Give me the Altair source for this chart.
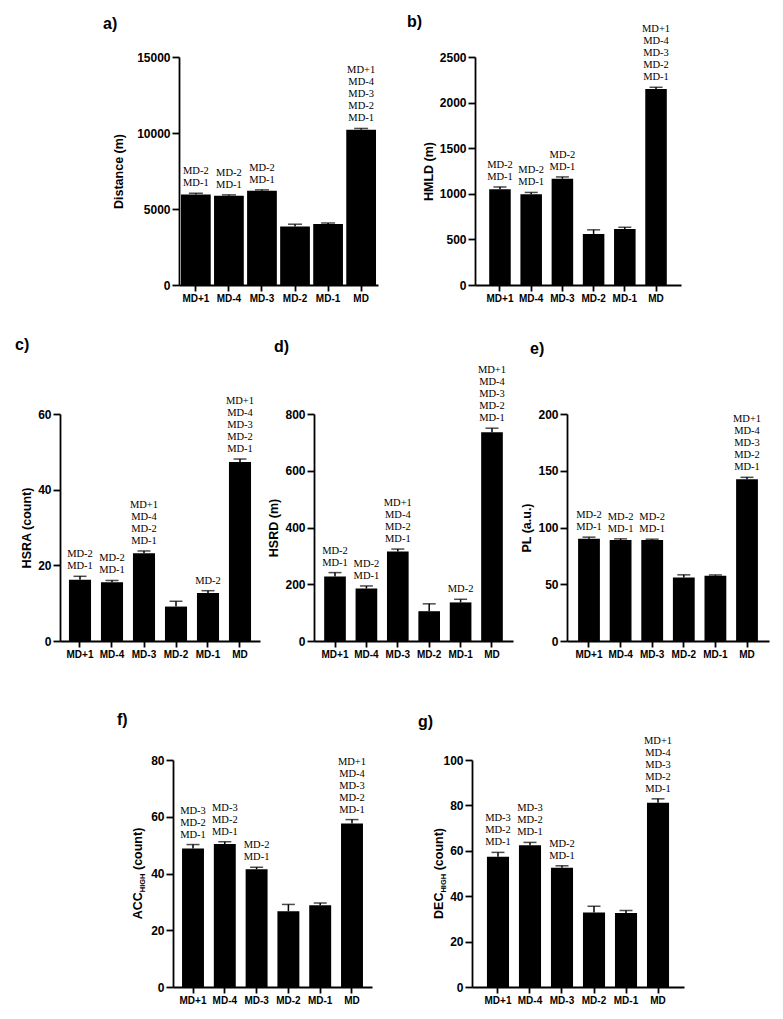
import altair as alt
import pandas as pd

days = ["MD+1", "MD-4", "MD-3", "MD-2", "MD-1", "MD"]

distance_mean = [5950, 5870, 6200, 3850, 4020, 10220]
distance_err = [80, 60, 60, 150, 60, 80]
hmld_mean = [1050, 995, 1165, 560, 615, 2150]
hmld_err = [25, 20, 20, 45, 18, 18]
hsra_mean = [16.2, 15.5, 23.2, 9.1, 12.7, 47.3]
hsra_err = [0.9, 0.5, 0.6, 1.4, 0.6, 0.8]
hsrd_mean = [227, 185, 315, 105, 136, 736]
hsrd_err = [14, 9, 9, 26, 11, 14]
pl_mean = [90, 89, 89, 56, 57.5, 142.6]
pl_err = [1.5, 1.0, 0.7, 2.3, 0.7, 1.6]
acc_mean = [48.8, 50.4, 41.5, 26.7, 28.8, 57.6]
acc_err = [1.4, 0.8, 0.7, 2.4, 0.8, 1.4]
dec_mean = [57.4, 62.5, 52.5, 32.8, 32.6, 81.2]
dec_err = [1.9, 1.2, 0.9, 2.8, 1.1, 1.7]

ALL5 = "MD+1\nMD-4\nMD-3\nMD-2\nMD-1"
notes_ab = ["MD-2\nMD-1", "MD-2\nMD-1", "MD-2\nMD-1", "", "", ALL5]
notes_cd = ["MD-2\nMD-1", "MD-2\nMD-1", "MD+1\nMD-4\nMD-2\nMD-1", "", "MD-2", ALL5]
notes_e = ["MD-2\nMD-1", "MD-2\nMD-1", "MD-2\nMD-1", "", "", ALL5]
notes_fg = ["MD-3\nMD-2\nMD-1", "MD-3\nMD-2\nMD-1", "MD-2\nMD-1", "", "", ALL5]

ticks_a = [0, 5000, 10000, 15000]
ticks_b = [0, 500, 1000, 1500, 2000, 2500]
ticks_c = [0, 20, 40, 60]
ticks_d = [0, 200, 400, 600, 800]
ticks_e = [0, 50, 100, 150, 200]
ticks_f = [0, 20, 40, 60, 80]
ticks_g = [0, 20, 40, 60, 80, 100]

FONT = "Liberation Sans"
SERIF = "Liberation Serif"
MAXLINES = 5
LINE_H = 12

# Arial-bold advance widths (em) for building the subscripted titles
W = {"A": .722, "C": .722, "D": .722, "E": .667, "H": .722, "I": .278, "G": .778,
     " ": .278, "(": .333, ")": .333, "c": .556, "o": .611, "u": .611, "n": .611, "t": .333}


def tw(s, size):
    return sum(W[ch] for ch in s) * size


def panel(label, title, means, errs, notes, ticks, width, height, title_x,
          label_x, label_y, pad_in=0.31, pad_out=0.3, cap=13, sub=None):
    cols = {"day": days, "mean": means,
            "top": [m + e for m, e in zip(means, errs)]}
    split = [n.split("\n")[::-1] if n else [] for n in notes]
    for k in range(MAXLINES):
        cols[f"l{k}"] = [s[k] if k < len(s) else "" for s in split]
    df = pd.DataFrame(cols)
    xenc = alt.X("day:N", sort=days,
                 scale=alt.Scale(paddingInner=pad_in, paddingOuter=pad_out),
                 axis=alt.Axis(title=None, labelAngle=0, labelFontSize=10,
                               tickSize=6, labelPadding=2))
    if sub is None:
        ax = dict(title=title, titleX=title_x)
    else:
        ax = dict(title=None)
    yscale = alt.Scale(domain=[0, ticks[-1]], nice=False)

    def Y(field):
        return alt.Y(field, scale=yscale,
                     axis=alt.Axis(values=ticks, format="d", tickSize=7,
                                   labelPadding=2, labelFontSize=12, **ax))

    base = alt.Chart(df)
    bars = base.mark_bar(color="black").encode(x=xenc, y=Y("mean:Q"))
    whisk = base.mark_rule(color="black", strokeWidth=1.5).encode(
        x=xenc, y=Y("mean:Q"), y2="top:Q")
    caps = base.mark_tick(color="black", orient="horizontal", size=cap,
                          thickness=1.5).encode(x=xenc, y=Y("top:Q"))
    layers = [bars, whisk, caps]
    for k in range(MAXLINES):
        layers.append(base.mark_text(
            font=SERIF, fontSize=10.5, baseline="bottom", dy=-5 - LINE_H * k,
            color="black").encode(x=xenc, y=Y("top:Q"), text=f"l{k}:N"))
    lab = alt.Chart(pd.DataFrame({"t": [label]})).mark_text(
        font=FONT, fontSize=16, fontWeight="bold", align="left",
        baseline="alphabetic", color="black").encode(
        x=alt.value(label_x), y=alt.value(label_y), text="t:N")
    layers.append(lab)
    if sub is not None:
        main, small, rest = sub
        fs, ss = 12.5, 7.5
        gap = tw(" ", fs)
        total = tw(main, fs) + tw(small, ss) + gap + tw(rest, fs)
        y0 = height / 2 + total / 2
        pieces = [(main, fs, title_x, y0),
                  (small, ss, title_x + 3, y0 - tw(main, fs)),
                  (rest, fs, title_x, y0 - tw(main, fs) - tw(small, ss) - gap)]
        for s, size, px, py in pieces:
            layers.append(alt.Chart(pd.DataFrame({"t": [s]})).mark_text(
                font=FONT, fontSize=size, fontWeight="bold", align="left",
                baseline="alphabetic", angle=270, color="black").encode(
                x=alt.value(px), y=alt.value(py), text="t:N"))
    return alt.layer(*layers).properties(width=width, height=height)


def spacer(w):
    return alt.Chart(pd.DataFrame({"v": [0]})).mark_text(text="").properties(
        width=w, height=10)


pa = panel("a)", "Distance (m)", distance_mean, distance_err, notes_ab, ticks_a,
           199, 228, -53.5, -76, -28, pad_in=0.1, pad_out=0.06, cap=14)
pb = panel("b)", "HMLD (m)", hmld_mean, hmld_err, notes_ab, ticks_b,
           206, 228, -40, -68, -30, pad_out=0.455)
pc = panel("c)", "HSRA (count)", hsra_mean, hsra_err, notes_cd, ticks_c,
           200, 227, -27, -45, -64, pad_out=0.28)
pd_ = panel("d)", "HSRD (m)", hsrd_mean, hsrd_err, notes_cd, ticks_d,
            199, 227, -34, -40, -62, pad_out=0.324)
pe = panel("e)", "PL (a.u.)", pl_mean, pl_err, notes_e, ticks_e,
           202, 227, -34, -37, -60, pad_out=0.351)
pf = panel("f)", None, acc_mean, acc_err, notes_fg, ticks_f,
           199, 227, -31, -56, -35, pad_out=0.284, sub=("ACC", "HIGH", "(count)"))
pg = panel("g)", None, dec_mean, dec_err, notes_fg, ticks_g,
           212, 227, -29, -54, -33, pad_out=0.467, sub=("DEC", "HIGH", "(count)"))

row1 = alt.hconcat(spacer(22), pa, pb, spacing=97, bounds="flush")
row2 = alt.hconcat(pc, pd_, pe, spacing=54, bounds="flush")
row3 = alt.hconcat(spacer(13), pf, pg, spacing=100, bounds="flush")

upper = alt.vconcat(row1, row2, spacing=34)
chart = alt.vconcat(upper, row3, spacing=53).properties(
    padding={"left": 7, "top": 6, "right": 5, "bottom": 5},
    background="white",
).configure_view(stroke=None).configure_axis(
    domainColor="black", domainWidth=1.8, tickColor="black", tickWidth=1.8,
    labelColor="black", labelFont=FONT, labelFontWeight="bold",
    titleFont=FONT, titleFontWeight="bold", titleFontSize=12.5, titleColor="black",
    grid=False,
)

chart.save("out.html", embed_options={"renderer": "svg", "actions": False})
